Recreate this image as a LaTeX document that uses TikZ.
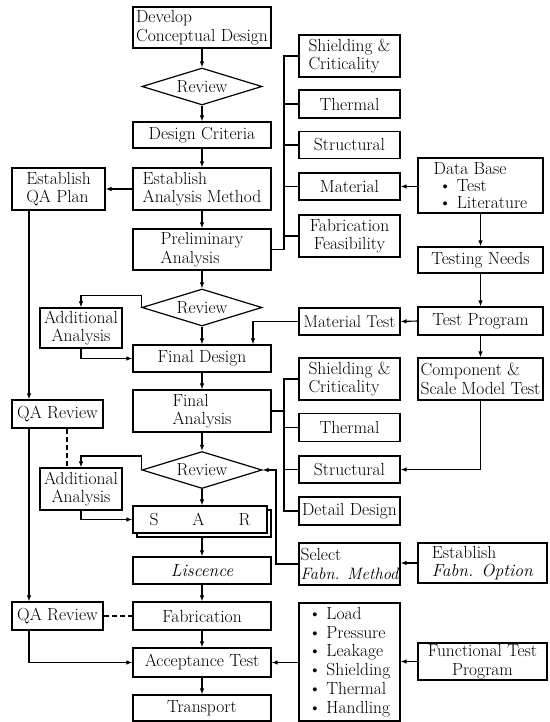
\documentclass[tikz,border=0pt]{standalone}
\usetikzlibrary{shapes.geometric,arrows.meta}
\begin{document}
\begin{tikzpicture}[x=1pt,y=-1pt,
  every node/.style={font=\fontsize{17.5}{18.5}\selectfont},
  box/.style={draw,line width=1.2pt,inner sep=1pt,align=center,fill=white},
  rev/.style={draw,diamond,line width=1.2pt,inner sep=0pt,shape aspect=3,minimum width=120pt,minimum height=37pt},
  conn/.style={line width=1.1pt},
  arr/.style={conn,-{Latex[length=6pt,width=4.5pt]}},
  dsh/.style={conn,dash pattern=on 5pt off 3pt}]
\fill[white] (0,0) rectangle (549,722);
\useasboundingbox (0,0) rectangle (549,722);
% coordinates for vertical runs
\coordinate (qx) at (29,0);
\coordinate (dq) at (67,0);
\coordinate (b1) at (284,0);
\coordinate (m2) at (253,0);
\coordinate (m3) at (276,0);
% main column
\node[box,align=left,minimum width=138pt,minimum height=41pt] (dev) at (202,27.5) {Develop\\Conceptual Design};
\node[rev] (rev1) at (202,86.5) {Review};
\node[box,minimum width=138pt,minimum height=26pt] (crit) at (202,135) {Design Criteria};
\node[box,align=left,minimum width=138pt,minimum height=42pt] (eam) at (202,189) {Establish\\Analysis Method};
\node[box,align=left,minimum width=138pt,minimum height=41pt] (prelim) at (202,249.5) {Preliminary\\Analysis};
\node[rev] (rev2) at (202,307.5) {Review};
\node[box,minimum width=138pt,minimum height=27pt] (fdes) at (202,358.5) {Final Design};
\node[box,align=left,minimum width=138pt,minimum height=42pt] (fana) at (202,411) {Final\\Analysis};
\node[rev] (rev3) at (202,470) {Review};
\node[box,minimum width=134pt,minimum height=27pt] (sarb) at (204,523.5) {};
\node[box,minimum width=134pt,minimum height=27pt] (sar) at (200,519.5) {S\hspace{34pt}A\hspace{34pt}R};
\node[box,minimum width=138pt,minimum height=27pt] (lic) at (202,570.5) {\itshape Liscence};
\node[box,minimum width=138pt,minimum height=28pt] (fab) at (202,616) {Fabrication};
\node[box,minimum width=138pt,minimum height=29pt] (acc) at (202,662.5) {Acceptance Test};
\node[box,minimum width=138pt,minimum height=26pt] (trans) at (202,708) {Transport};
% left column
\node[box,align=left,minimum width=93pt,minimum height=42pt] (qap) at (58.5,189) {Establish\\QA Plan};
\node[box,minimum width=82pt,minimum height=40pt] (add1) at (81,328) {Additional\\Analysis};
\node[box,minimum width=91pt,minimum height=28pt] (qar1) at (57.5,414) {QA Review};
\node[box,minimum width=82pt,minimum height=42pt] (add2) at (81,489) {Additional\\Analysis};
\node[box,minimum width=91pt,minimum height=28pt] (qar2) at (57.5,616) {QA Review};
% right column 1
\node[box,align=left,minimum width=101pt,minimum height=42pt] (sc1) at (349.5,56) {Shielding \&\\Criticality};
\node[box,minimum width=101pt,minimum height=28pt] (th1) at (349.5,104) {Thermal};
\node[box,minimum width=101pt,minimum height=27pt] (st1) at (349.5,145) {Structural};
\node[box,minimum width=101pt,minimum height=27pt] (mat) at (349.5,186.5) {Material};
\node[box,minimum width=101pt,minimum height=42pt] (ff) at (349.5,236) {Fabrication\\Feasibility};
\node[box,minimum width=101pt,minimum height=27pt,font=\fontsize{17}{18.5}\selectfont] (mt) at (349.5,321.5) {Material Test};
\node[box,align=left,minimum width=101pt,minimum height=42pt] (sc2) at (349.5,379) {Shielding \&\\Criticality};
\node[box,minimum width=101pt,minimum height=28pt] (th2) at (349.5,427.5) {Thermal};
\node[box,minimum width=101pt,minimum height=27pt] (st2) at (349.5,469.5) {Structural};
\node[box,minimum width=101pt,minimum height=28pt] (dd) at (349.5,511) {Detail Design};
\node[box,align=left,minimum width=101pt,minimum height=42pt] (sfm) at (349.5,564) {Select\\{\fontsize{16.5}{18.5}\selectfont\itshape Fabn. Method}};
\node[box,align=left,minimum width=101pt,minimum height=118pt,font=\fontsize{17.5}{18.8}\selectfont] (lst) at (349.5,662) {\textbullet\ Load\\\textbullet\ Pressure\\\textbullet\ Leakage\\\textbullet\ Shielding\\\textbullet\ Thermal\\\textbullet\ Handling};
% right column 2
\node[box,align=left,minimum width=125pt,minimum height=55pt,font=\fontsize{17.5}{17}\selectfont] (db) at (480.5,185.5) {Data Base\\\ \textbullet\ Test\\\ \textbullet\ Literature};
\node[box,minimum width=125pt,minimum height=26pt] (tn) at (480.5,260) {Testing Needs};
\node[box,minimum width=125pt,minimum height=28pt] (tp) at (480.5,321) {Test Program};
\node[box,align=left,minimum width=125pt,minimum height=42pt] (comp) at (480.5,379) {Component \&\\Scale Model Test};
\node[box,align=left,minimum width=129pt,minimum height=40pt] (efo) at (482.5,563) {Establish\\\textit{Fabn. Option}};
\node[box,minimum width=129pt,minimum height=37pt] (ftp) at (482.5,661.5) {Functional Test\\Program};
% main column connectors
\draw[arr] (dev) -- (rev1);
\draw[arr] (rev1) -- (crit);
\draw[arr] (crit) -- (eam);
\draw[arr] (eam) -- (prelim);
\draw[arr] (prelim) -- (rev2);
\draw[arr] (rev2) -- (fdes);
\draw[arr] (fdes) -- (fana);
\draw[arr] (fana) -- (rev3);
\draw[arr] (rev3.south) -- (rev3.south |- sar.north);
\draw[arr] (lic.north |- sarb.south) -- (lic.north);
\draw[arr] (lic) -- (fab);
\draw[arr] (fab) -- (acc);
\draw[arr] (acc) -- (trans);
% left side
\draw[arr] (eam.west) -- (qap.east);
\draw[arr] (qap.south -| qx) -- (qar1.north -| qx);
\draw[arr] (qar1.south -| qx) -- (qar2.north -| qx);
\draw[arr] (qar2.south -| qx) |- (acc.west);
\draw[dsh] (qar2.east) -- (fab.west);
\draw[dsh] (qar1.south -| dq) -- (add2.north -| dq);
\draw[arr] (rev2.west) -- ++(0,-12) -| (add1.north);
\draw[arr] (add1.south) |- (fdes.west);
\draw[arr] (rev3.west) -- ++(0,-14) -| (add2.north);
\draw[arr] (add2.south) |- (sar.west);
% bracket 1
\draw[conn] (sc1.west) -| (b1 |- prelim.east) -- (prelim.east);
\draw[conn] (th1.west) -- (th1.west -| b1);
\draw[conn] (st1.west) -- (st1.west -| b1);
\draw[conn] (mat.west) -- (mat.west -| b1);
\draw[conn] (ff.west) -- (ff.west -| b1);
% bracket 2
\draw[conn] (sc2.west) -| (b1 |- dd.west) -- (dd.west);
\draw[conn] (fana.east) -- (fana.east -| b1);
\draw[conn] (th2.west) -- (th2.west -| b1);
\draw[conn] (st2.west) -- (st2.west -| b1);
% right side
\draw[arr] (db.west |- mat.east) -- (mat.east);
\draw[arr] (db) -- (tn);
\draw[arr] (tn) -- (tp);
\draw[arr] (tp) -- (comp);
\draw[arr] (tp.west) -- (mt.east);
\draw[arr] (mt.west) -| (fdes.north -| m2);
\draw[arr] (comp.south) |- (st2.east);
\draw[arr] (sfm.west) -| (rev3.east -| m3) -- (rev3.east);
\draw[arr] (efo.west) -- (sfm.east |- efo.west);
\draw[arr] (ftp.west) -- (lst.east |- ftp.west);
\draw[arr] (lst.west |- acc.east) -- (acc.east);
\end{tikzpicture}
\end{document}
